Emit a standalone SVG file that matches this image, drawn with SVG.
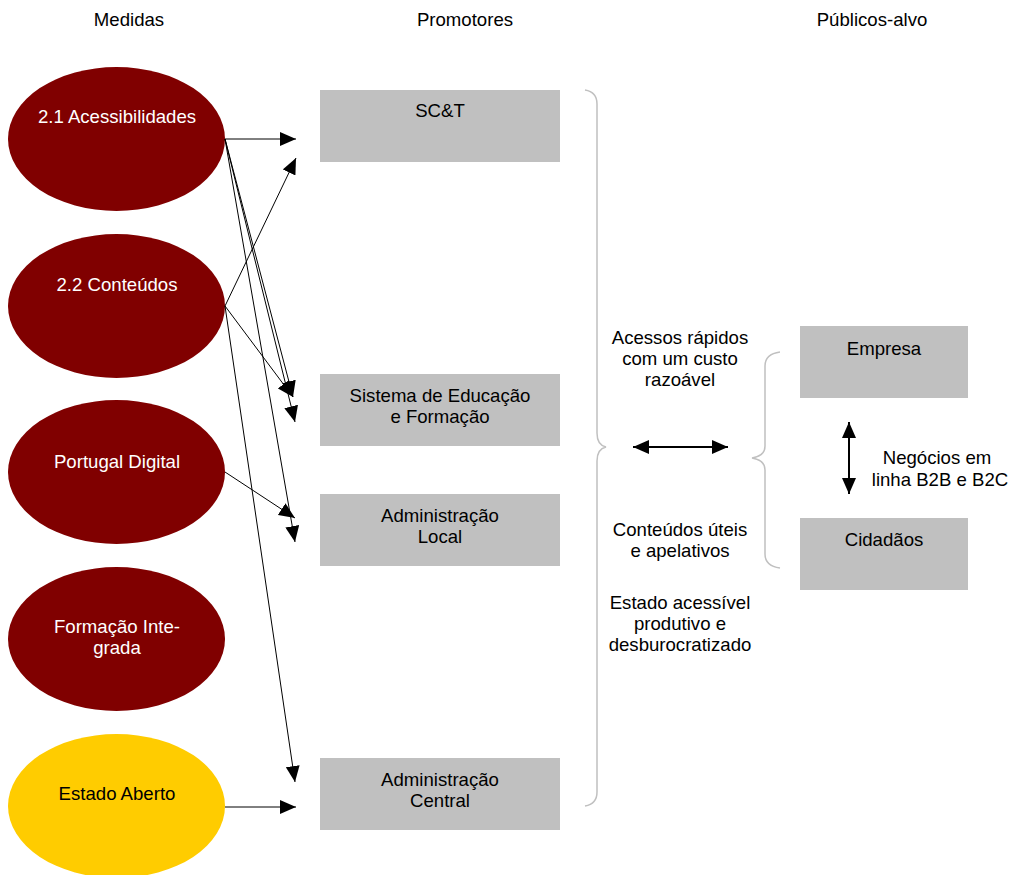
<svg xmlns="http://www.w3.org/2000/svg" width="1016" height="875" viewBox="0 0 1016 875">
<style>
text{font-family:"Liberation Sans",Arial,sans-serif;font-size:18.6px;text-anchor:middle;fill:#000}
.w{fill:#fff}
.el{fill:#800000}
.yl{fill:#ffcc00}
.bx{fill:#c0c0c0}
.ln{stroke:#000;stroke-width:1;fill:none;marker-end:url(#ah)}
.dl{stroke:#000;stroke-width:2;fill:none;marker-start:url(#ah2);marker-end:url(#ah2)}
.br{stroke:#c0c0c0;stroke-width:1.5;fill:none}
</style>
<defs>
<marker id="ah" viewBox="0 0 16 14" refX="16" refY="7" markerWidth="16" markerHeight="14" markerUnits="userSpaceOnUse" orient="auto"><path d="M0,0 L16,7 L0,14 Z" fill="#000"/></marker>
<marker id="ah2" viewBox="0 0 16 14" refX="16" refY="7" markerWidth="16" markerHeight="14" markerUnits="userSpaceOnUse" orient="auto-start-reverse"><path d="M0,0 L16,7 L0,14 Z" fill="#000"/></marker>
</defs>
<rect width="1016" height="875" fill="#fff"/>
<g id="headers">
<text x="129" y="26">Medidas</text>
<text x="465" y="26">Promotores</text>
<text x="872" y="26">Públicos-alvo</text>
</g>
<g id="m21"><ellipse class="el" cx="116.5" cy="139" rx="108.5" ry="72"/><text class="w" x="117" y="123">2.1 Acessibilidades</text></g>
<g id="m22"><ellipse class="el" cx="116.5" cy="306" rx="108.5" ry="72"/><text class="w" x="117" y="291">2.2 Conteúdos</text></g>
<g id="mpd"><ellipse class="el" cx="116.5" cy="472" rx="108.5" ry="72"/><text class="w" x="117" y="468">Portugal Digital</text></g>
<g id="mfi"><ellipse class="el" cx="116.5" cy="639" rx="108.5" ry="72"/><text class="w" x="117" y="633">Formação Inte-</text><text class="w" x="117" y="654">grada</text></g>
<g id="mea"><ellipse class="yl" cx="116.5" cy="806" rx="108.5" ry="72"/><text x="117" y="800">Estado Aberto</text></g>
<g id="psct"><rect class="bx" x="320" y="90" width="240" height="72"/><text x="440" y="117">SC&amp;T</text></g>
<g id="psef"><rect class="bx" x="320" y="374" width="240" height="72"/><text x="440" y="402">Sistema de Educação</text><text x="440" y="423">e Formação</text></g>
<g id="pal"><rect class="bx" x="320" y="494" width="240" height="72"/><text x="440" y="522">Administração</text><text x="440" y="543">Local</text></g>
<g id="pac"><rect class="bx" x="320" y="758" width="240" height="72"/><text x="440" y="786">Administração</text><text x="440" y="807">Central</text></g>
<g id="pemp"><rect class="bx" x="800" y="326" width="168" height="72"/><text x="884" y="355">Empresa</text></g>
<g id="pcid"><rect class="bx" x="800" y="518" width="168" height="72"/><text x="884" y="546">Cidadãos</text></g>
<g id="labels">
<text x="680" y="344">Acessos rápidos</text>
<text x="680" y="365">com um custo</text>
<text x="680" y="386">razoável</text>
<text x="680" y="536">Conteúdos úteis</text>
<text x="680" y="557">e apelativos</text>
<text x="680" y="609">Estado acessível</text>
<text x="680" y="630">produtivo e</text>
<text x="680" y="651">desburocratizado</text>
<text x="937" y="464">Negócios em</text>
<text x="940" y="486">linha B2B e B2C</text>
</g>
<g id="braces">
<path class="br" d="M585,90 Q597,92 597,104 L597,433 Q597,445 606,447 Q597,449 597,461 L597,792 Q597,804 585,806"/>
<path class="br" d="M780,352 Q765,354 765,366 L765,446 Q765,456 752,458 Q765,460 765,470 L765,554 Q765,566 780,568"/>
</g>
<g id="connectors">
<line class="ln" x1="225" y1="139" x2="296" y2="139"/>
<line class="ln" x1="225" y1="139" x2="293" y2="397"/>
<line class="ln" x1="225" y1="139" x2="295" y2="422"/>
<line class="ln" x1="225" y1="139" x2="295" y2="542"/>
<line class="ln" x1="225" y1="306" x2="296" y2="158"/>
<line class="ln" x1="225" y1="306" x2="293" y2="397"/>
<line class="ln" x1="225" y1="306" x2="295" y2="782"/>
<line class="ln" x1="225" y1="472" x2="295" y2="518"/>
<line class="ln" x1="225" y1="807" x2="296" y2="807"/>
<line class="dl" x1="633" y1="447" x2="728" y2="447"/>
<line class="dl" x1="849" y1="422" x2="849" y2="494"/>
</g>
</svg>
